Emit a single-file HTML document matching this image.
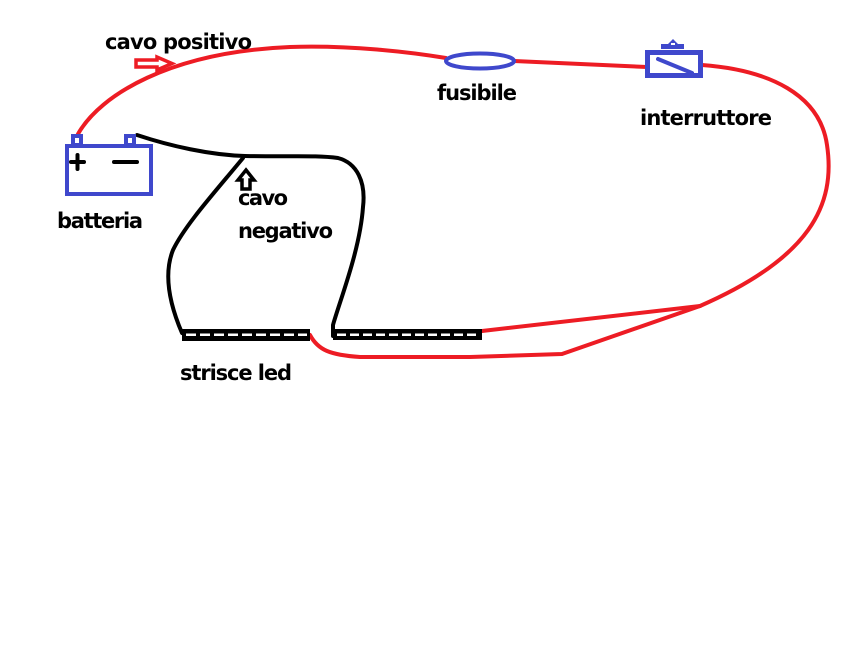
<!DOCTYPE html>
<html>
<head>
<meta charset="utf-8">
<style>
html,body{margin:0;padding:0;background:#fff;}
svg{display:block;}
text{font-family:"DejaVu Sans","Liberation Sans",sans-serif;font-weight:bold;font-size:21px;fill:#000;}
</style>
</head>
<body>
<svg width="864" height="648" viewBox="0 0 864 648" xmlns="http://www.w3.org/2000/svg">
<rect width="864" height="648" fill="#fff"/>

<!-- red positive wire -->
<g fill="none" stroke="#ed1c24" stroke-width="4" stroke-linejoin="round" stroke-linecap="round">
  <path d="M78,134 C100,95 170,52 290,47 C350,45 410,52 446,58"/>
  <path d="M514,61 L647,67"/>
  <path d="M702,65 C770,70 820,95 827,145 C836,205 810,258 700,306"/>
  <path d="M700,306 L482,331"/>
  <path d="M700,306 L562,354 L470,357 L360,357 C330,355 318,350 310,335"/>
</g>

<!-- black negative wire -->
<g fill="none" stroke="#000" stroke-width="4" stroke-linejoin="round" stroke-linecap="round">
  <path d="M137,135 C170,146 210,155 245,156 C290,157 315,155 338,158 C357,163 366,182 363,207 C360,250 340,300 333,325 L333,336"/>
  <path d="M243,158 C215,192 185,225 173,250 C163,275 170,305 182,333"/>
</g>

<!-- LED strips -->
<rect x="182" y="329" width="128" height="12" fill="#000"/>
<line x1="186" y1="334.8" x2="307" y2="334.8" stroke="#fff" stroke-width="2.5" stroke-dasharray="10,4"/>
<rect x="333" y="329" width="149" height="11" fill="#000"/>
<line x1="337" y1="334.8" x2="478" y2="334.8" stroke="#fff" stroke-width="2.5" stroke-dasharray="9,4"/>

<!-- battery -->
<g fill="none" stroke="#3f48cc" stroke-width="4">
  <rect x="67" y="146" width="84" height="48"/>
  <rect x="73" y="136" width="8" height="9"/>
  <rect x="126" y="136" width="8" height="9"/>
</g>
<g stroke="#000" stroke-width="4" stroke-linecap="round">
  <line x1="71" y1="162" x2="84" y2="162"/>
  <line x1="77.5" y1="155" x2="77.5" y2="169"/>
  <line x1="114" y1="162" x2="137" y2="162"/>
</g>

<!-- fuse -->
<ellipse cx="480" cy="61" rx="34" ry="7.5" fill="none" stroke="#3f48cc" stroke-width="4"/>

<!-- switch -->
<rect x="647.5" y="52.5" width="53" height="23" fill="none" stroke="#3f48cc" stroke-width="5"/>
<line x1="658" y1="59" x2="692" y2="73" stroke="#3f48cc" stroke-width="4" stroke-linecap="round"/>
<polygon points="661,44 668,44 673,39 678,44 684,44 684,49 661,49" fill="#3f48cc"/>
<rect x="671" y="43" width="4" height="2" fill="#fff"/>

<!-- positive arrow -->
<polygon points="136,60 157,60 157,57 172,63.5 157,70 157,67 136,67" fill="#fff" stroke="#ed1c24" stroke-width="3.5" stroke-linejoin="miter"/>

<!-- negative arrow -->
<polygon points="246,170 254,180 250,180 250,189 242,189 242,180 238,180" fill="#fff" stroke="#000" stroke-width="3.5" stroke-linejoin="miter"/>

<!-- labels -->
<text x="105" y="49" textLength="147" lengthAdjust="spacing">cavo positivo</text>
<text x="57" y="228" textLength="86" lengthAdjust="spacing">batteria</text>
<text x="238" y="205" textLength="50" lengthAdjust="spacing">cavo</text>
<text x="238" y="238" textLength="95" lengthAdjust="spacing">negativo</text>
<text x="437" y="100" textLength="80" lengthAdjust="spacing">fusibile</text>
<text x="640" y="125" textLength="132" lengthAdjust="spacing">interruttore</text>
<text x="180" y="380" textLength="112" lengthAdjust="spacing">strisce led</text>
</svg>
</body>
</html>
